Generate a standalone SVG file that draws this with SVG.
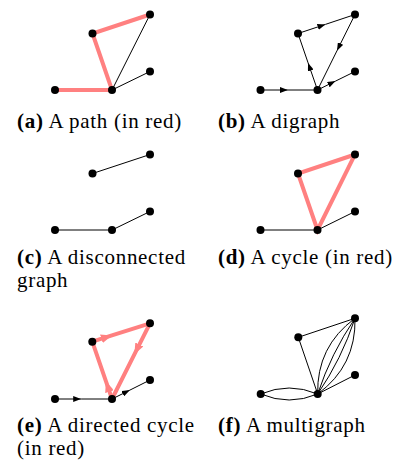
<svg xmlns="http://www.w3.org/2000/svg" width="402" height="462" viewBox="0 0 402 462">
<defs>
<style>
.e{fill:none;stroke:#000;stroke-width:1}
.r{fill:none;stroke:#FF8080;stroke-width:4}
.ea{fill:none;stroke:#000;stroke-width:1;marker-mid:url(#ah)}
.ra{fill:none;stroke:#FF8080;stroke-width:4;marker-mid:url(#rh)}
.n{fill:#000}
.cap{font-size:21px;letter-spacing:0.7px;fill:#000}
.b{font-weight:bold}
</style>
<marker id="ah" viewBox="0 -3 8 6" refX="8" refY="0" markerWidth="8" markerHeight="6" markerUnits="userSpaceOnUse" orient="auto">
<path d="M0,-3 L8,0 L0,3 Z" fill="#000"/>
</marker>
<marker id="rh" viewBox="0 -4.5 11 9" refX="11" refY="0" markerWidth="11" markerHeight="9" markerUnits="userSpaceOnUse" orient="auto">
<path d="M0,-4.5 L11,0 L0,4.5 Z" fill="#FF8080"/>
</marker>
</defs>

<g id="connectors">
<path class="r" d="M55,90 L112,90 L92.5,33.5 L150,14.5"/>
<path class="e" d="M112,90 L150,14.5"/>
<path class="e" d="M112,90 L150,71.5"/>
<path class="ea" d="M260.5,90 L287.9,90 L317.5,90"/>
<path class="ea" d="M317.5,90 L308.1,62.9 L298,33.5"/>
<path class="ea" d="M298,33.5 L325.4,24.4 L355,14.5"/>
<path class="ea" d="M355,14.5 L337,50.7 L317.5,90"/>
<path class="ea" d="M317.5,90 L335.5,81.1 L355,71.5"/>
<path class="e" d="M92.5,173.5 L150,154.5"/>
<path class="e" d="M55,230 L112,230 L150,211.5"/>
<path class="r" d="M317.5,230 L298,173.5 L355,154.5 Z"/>
<path class="e" d="M260.5,230 L317.5,230"/>
<path class="e" d="M317.5,230 L355,211.5"/>
<path class="ea" d="M55,399 L81.2,399 L112,399"/>
<path class="ea" d="M112,399 L129.9,390.1 L150,380"/>
<path class="ra" d="M112,399 L105.9,381.2 L92.3,341.7"/>
<path class="ra" d="M92.3,341.7 L111.9,335.4 L150,323.3"/>
<path class="ra" d="M150,323.3 L134.4,354.3 L112,399"/>
<path class="e" d="M298.3,337.3 L355,318.3"/>
<path class="e" d="M298.3,337.3 L317.7,394"/>
<path class="e" d="M317.7,394 L355,375"/>
<path class="e" d="M260.7,394 Q289.2,382 317.7,394"/>
<path class="e" d="M260.7,394 Q289.2,406 317.7,394"/>
<path class="e" d="M317.7,394 Q341.7,358.8 355,318.3"/>
<path class="e" d="M317.7,394 Q331,353.5 355,318.3"/>
<path class="e" d="M317.7,394 Q356.1,365.9 355,318.3"/>
<path class="e" d="M317.7,394 Q316.6,346.4 355,318.3"/>
</g>

<g id="graph-a">
<circle id="a1" class="n" cx="55" cy="90" r="4"/>
<circle id="a2" class="n" cx="92.5" cy="33.5" r="4"/>
<circle id="a3" class="n" cx="150" cy="14.5" r="4"/>
<circle id="a4" class="n" cx="112" cy="90" r="4"/>
<circle id="a5" class="n" cx="150" cy="71.5" r="4"/>
</g>
<g id="graph-b">
<circle id="b1" class="n" cx="260.5" cy="90" r="4"/>
<circle id="b2" class="n" cx="298" cy="33.5" r="4"/>
<circle id="b3" class="n" cx="355" cy="14.5" r="4"/>
<circle id="b4" class="n" cx="317.5" cy="90" r="4"/>
<circle id="b5" class="n" cx="355" cy="71.5" r="4"/>
</g>
<g id="graph-c">
<circle id="c1" class="n" cx="55" cy="230" r="4"/>
<circle id="c2" class="n" cx="92.5" cy="173.5" r="4"/>
<circle id="c3" class="n" cx="150" cy="154.5" r="4"/>
<circle id="c4" class="n" cx="112" cy="230" r="4"/>
<circle id="c5" class="n" cx="150" cy="211.5" r="4"/>
</g>
<g id="graph-d">
<circle id="d1" class="n" cx="260.5" cy="230" r="4"/>
<circle id="d2" class="n" cx="298" cy="173.5" r="4"/>
<circle id="d3" class="n" cx="355" cy="154.5" r="4"/>
<circle id="d4" class="n" cx="317.5" cy="230" r="4"/>
<circle id="d5" class="n" cx="355" cy="211.5" r="4"/>
</g>
<g id="graph-e">
<circle id="e1" class="n" cx="55" cy="399" r="4"/>
<circle id="e2" class="n" cx="92.3" cy="341.7" r="4"/>
<circle id="e3" class="n" cx="150" cy="323.3" r="4"/>
<circle id="e4" class="n" cx="112" cy="399" r="4"/>
<circle id="e5" class="n" cx="150" cy="380" r="4"/>
</g>
<g id="graph-f">
<circle id="f1" class="n" cx="260.7" cy="394" r="4"/>
<circle id="f2" class="n" cx="298.3" cy="337.3" r="4"/>
<circle id="f3" class="n" cx="355" cy="318.3" r="4"/>
<circle id="f4" class="n" cx="317.7" cy="394" r="4"/>
<circle id="f5" class="n" cx="355" cy="375" r="4"/>
</g>

<g id="captions" font-family="'Liberation Serif', 'Times New Roman', Times, serif">
<text class="cap" x="17" y="128"><tspan class="b">(a)</tspan> A path (in red)</text>
<text class="cap" x="218" y="128"><tspan class="b">(b)</tspan> A digraph</text>
<text class="cap" x="17" y="264"><tspan class="b">(c)</tspan> A disconnected</text>
<text class="cap" x="17" y="287">graph</text>
<text class="cap" x="218" y="264"><tspan class="b">(d)</tspan> A cycle (in red)</text>
<text class="cap" x="17" y="432"><tspan class="b">(e)</tspan> A directed cycle</text>
<text class="cap" x="17" y="455">(in red)</text>
<text class="cap" x="218" y="432"><tspan class="b">(f)</tspan> A multigraph</text>
</g>
</svg>
